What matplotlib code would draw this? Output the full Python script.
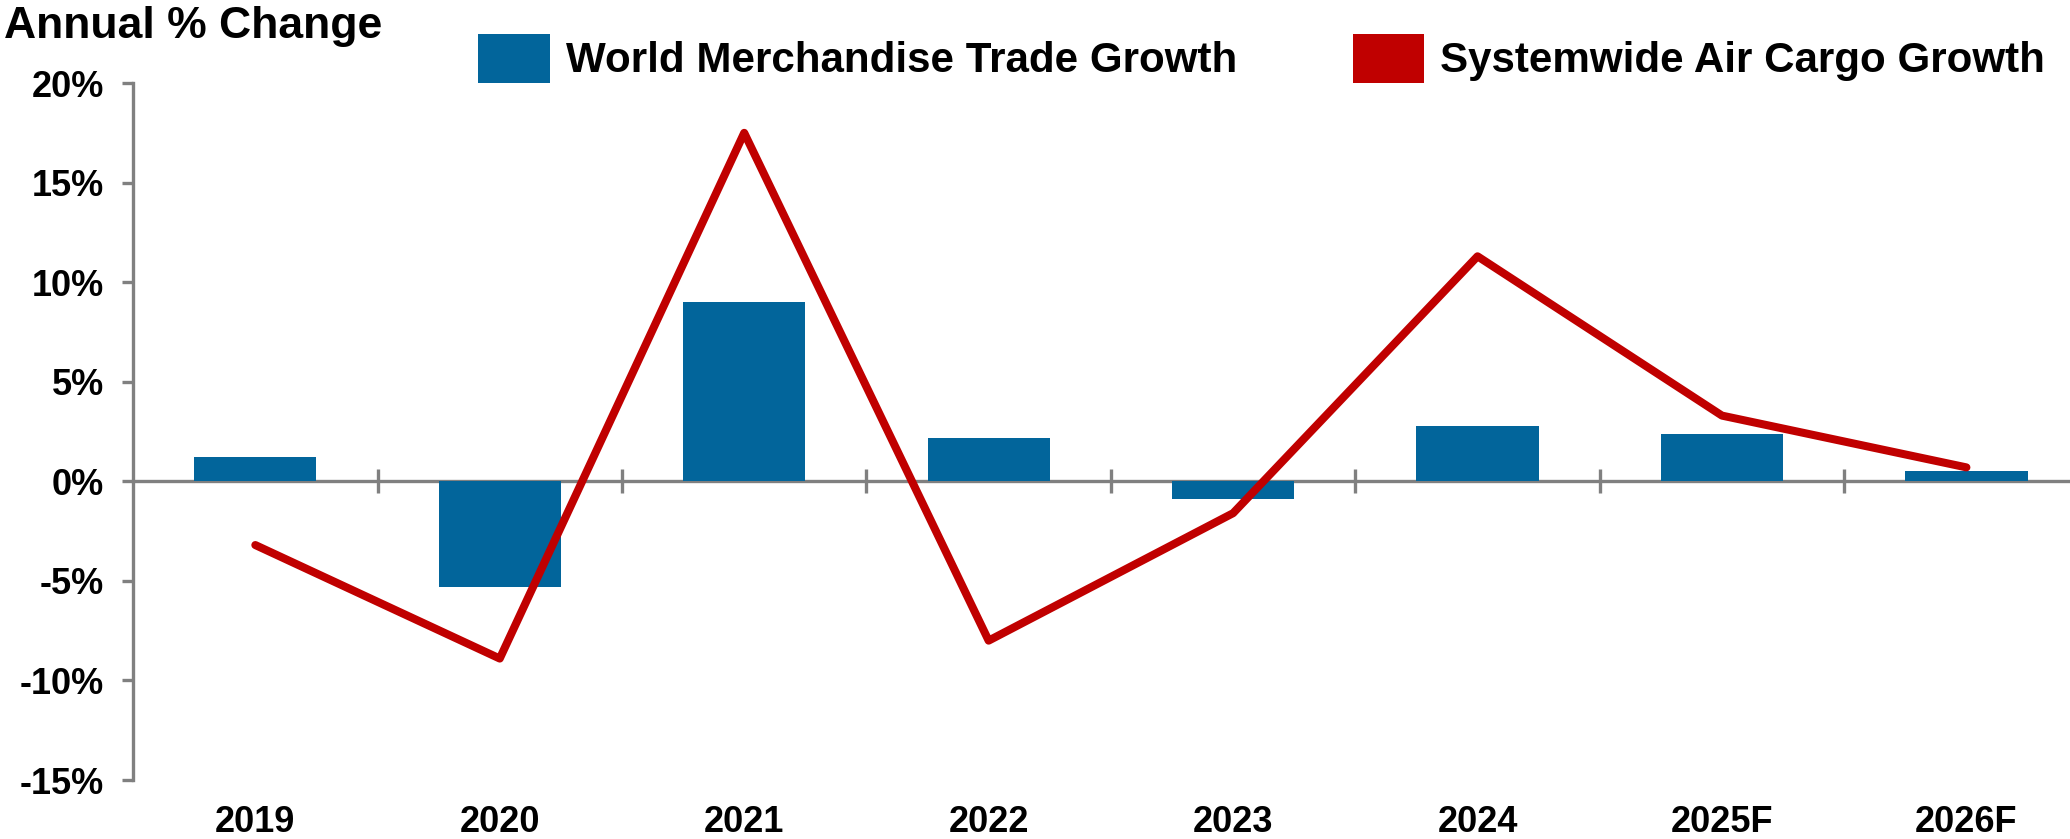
import matplotlib
matplotlib.use("Agg")
import matplotlib.pyplot as plt
from matplotlib.patches import Patch
from matplotlib.ticker import FuncFormatter, FixedLocator
from matplotlib.transforms import blended_transform_factory
import numpy as np

# data (annual % change)
years = ["2019", "2020", "2021", "2022", "2023", "2024", "2025F", "2026F"]
trade_growth = [1.2, -5.3, 9.0, 2.2, -0.9, 2.8, 2.4, 0.5]
air_cargo_growth = [-3.2, -8.9, 17.5, -8.0, -1.6, 11.3, 3.3, 0.7]
y_ticks = [-15, -10, -5, 0, 5, 10, 15, 20]

BLUE = "#02659B"
RED = "#C00000"
GREY = "#808080"

plt.rcParams["font.family"] = ["Liberation Sans", "DejaVu Sans"]
plt.rcParams["font.weight"] = "bold"

fig = plt.figure(figsize=(20.70, 8.39), dpi=100)
ax = fig.add_axes([0.0643, 0.0703, 0.9447, 0.8307])

x = np.arange(len(years))
ax.bar(x, trade_growth, width=0.5, color=BLUE, zorder=2)
ax.plot(x, air_cargo_growth, color=RED, lw=5.8, solid_capstyle="round",
        solid_joinstyle="round", zorder=3)

ax.set_xlim(-0.5, len(years) - 0.5)
ax.set_ylim(-15, 20)

# spines / axis look
for s in ["top", "right"]:
    ax.spines[s].set_visible(False)
ax.spines["left"].set_color(GREY)
ax.spines["left"].set_linewidth(2.4)
ax.spines["bottom"].set_position(("data", 0))
ax.spines["bottom"].set_color(GREY)
ax.spines["bottom"].set_linewidth(2.4)
ax.spines["bottom"].set_zorder(1)

ax.yaxis.set_major_locator(FixedLocator(y_ticks))
ax.yaxis.set_major_formatter(FuncFormatter(lambda v, p: f"{v:.0f}%"))
ax.tick_params(axis="y", direction="out", length=8, width=2.4, color=GREY,
               labelsize=26, pad=13)

# category boundaries as ticks on the zero line
ax.xaxis.set_major_locator(FixedLocator(x[:-1] + 0.5))
ax.tick_params(axis="x", direction="inout", length=17, width=2.4, color=GREY,
               labelbottom=False)

# year labels below the plot area
trans = blended_transform_factory(ax.transData, ax.transAxes)
for xi, yr in zip(x, years):
    ax.text(xi, -0.036, yr, transform=trans, ha="center", va="top",
            fontsize=26, fontweight="bold")

fig.text(0.002, 0.9685, "Annual % Change", ha="left", va="center",
         fontsize=32, fontweight="bold")

handles = [Patch(facecolor=BLUE, edgecolor="none"),
           Patch(facecolor=RED, edgecolor="none")]
labels = ["World Merchandise Trade Growth", "Systemwide Air Cargo Growth"]
fig.legend(handles, labels, loc="upper left", bbox_to_anchor=(0.231, 0.96),
           ncol=2, frameon=False, fontsize=30.3, handlelength=1.7,
           handleheight=1.42, handletextpad=0.38, columnspacing=2.75,
           borderpad=0, borderaxespad=0)

fig.savefig("out.png", dpi=100)
